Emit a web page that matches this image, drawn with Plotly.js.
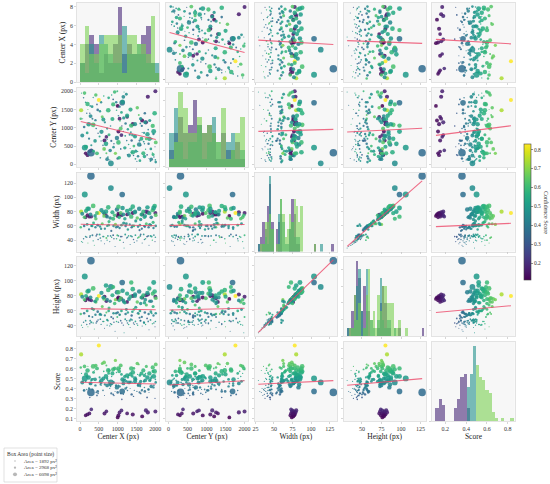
<!DOCTYPE html>
<html><head><meta charset="utf-8">
<script src="https://cdn.plot.ly/plotly-3.0.1.min.js"></script>
<style>html,body{margin:0;padding:0;background:#fff;}</style>
</head><body><div id="chart" style="width:550px;height:484px;"></div>
<script>
// ---- data (low-score cluster, outliers, small, medium, large boxes) ----
const centerX = [
1000,1650,150,1400,200,650,250,1800,1050,700,2000,1100,1750,300,1020,1250,
290,820,127,1120,
40,95,150,210,260,330,380,430,480,520,560,610,650,700,740,790,840,880,930,970,
1020,1060,1110,1150,1200,1240,1290,1330,1380,1420,1470,1510,1560,1600,1650,1690,1740,1780,1830,1870,
1920,1960,2000,1990,1900,1810,1710,1610,1530,1440,1350,1260,1170,1080,990,900,810,720,630,540,
450,350,270,180,70,
20,110,190,240,300,360,410,470,530,590,660,720,770,830,890,940,1000,1050,1100,1160,
1210,1270,1320,1370,1430,1480,1540,1590,1640,1700,1760,1820,1880,1940,2010,1950,1850,1720,1580,1390,
1230,960,760,560,320,
30,120,200,280,350,420,500,570,640,690,750,800,860,920,980,1040,1080,1130,1190,1250,
1300,1360,1400,1460,1520,1570,1630,1680,1730,1790,1840,1890,1930,1980,2010,1955,1610,1340,1150,880,
620,400,160,60,1710,1460,1020,720,450,230];
const centerY = [
1600,1200,300,1100,250,650,350,1850,1250,750,2000,800,1150,380,900,1300,
315,27,457,1685,
1950,1820,1700,1500,1400,1250,1100,980,850,760,640,520,400,300,200,120,1900,1780,1620,1480,
1330,1190,1050,900,780,650,540,430,330,240,150,80,1350,1120,870,620,410,260,160,90,
310,200,120,480,700,950,560,520,350,780,880,260,1980,420,2000,560,1050,680,1870,180,
1640,1830,1600,1400,1250,
1250,1020,860,700,520,360,1210,1490,1450,1300,1150,980,810,640,470,300,160,1580,1420,1270,
1120,960,810,650,500,360,220,100,1050,860,700,560,420,270,60,830,1200,1400,650,800,
1920,1700,1820,1700,1580,
1480,1950,1650,1320,1080,1900,1760,890,420,560,1480,380,1240,1980,720,180,980,1710,450,1330,
240,1060,330,760,1550,540,700,300,1150,820,700,140,1050,1400,600,900,1250,1500,1850,1640,
1230,640,480,790,210,1100,600,140,300,1100];
const widthPx = [
74,76,72,78,75,77,73,79,76,74,78,75,80,73,77,76,
130,113,104,104,
38,42,45,36,44,47,33,46,41,48,39,45,35,43,46,38,44,47,31,42,
46,40,45,37,48,43,46,34,45,41,47,39,44,46,36,48,42,45,33,46,
40,47,44,38,45,46,41,48,43,37,46,44,29,45,47,42,46,40,45,43,
48,39,46,44,37,
58,60,62,55,60,64,58,61,59,63,56,60,66,53,60,62,59,57,61,64,
60,55,62,58,60,67,59,61,56,60,63,58,61,65,60,57,62,59,54,60,
63,58,61,56,60,
80,72,84,76,88,70,78,82,74,80,86,71,79,75,83,72,78,85,70,81,
77,73,87,79,71,84,76,80,74,86,78,72,82,88,75,85,69,83,76,70,
79,74,81,77,72,80,87,73,78,84];
const heightPx = [
76,78,74,80,77,79,75,82,77,73,79,76,81,74,78,72,
127,92,106,98,
41,45,47,39,43,52,36,44,48,55,42,46,37,58,47,40,42,50,33,46,
45,55,44,41,49,47,42,38,48,44,46,43,56,47,40,45,42,50,35,48,
43,44,46,39,57,46,45,47,41,42,49,44,31,47,52,45,43,41,46,49,
46,44,47,42,38,
56,57,60,53,45,62,55,59,56,66,54,48,64,52,57,75,58,55,60,72,
56,58,47,54,62,65,57,60,52,44,68,56,59,66,57,54,73,58,51,59,
62,57,60,55,63,
82,75,86,78,90,72,80,84,76,94,88,73,81,70,85,74,77,87,71,83,
76,98,89,80,72,86,78,81,75,84,90,73,83,86,77,98,70,79,74,92,
78,73,80,79,71,82,85,75,76,87];
const score = [
0.11,0.12,0.13,0.14,0.14,0.15,0.15,0.16,0.16,0.17,0.17,0.18,0.18,0.19,0.13,0.15,
0.36,0.46,0.50,0.37,
0.55,0.38,0.47,0.62,0.31,0.39,0.58,0.36,0.35,0.51,0.43,0.38,0.33,0.63,0.48,0.40,0.52,0.34,0.37,0.56,
0.43,0.60,0.29,0.34,0.49,0.41,0.53,0.40,0.46,0.32,0.50,0.37,0.64,0.42,0.39,0.47,0.55,0.31,0.36,0.48,
0.58,0.43,0.49,0.30,0.52,0.39,0.41,0.35,0.54,0.38,0.47,0.38,0.48,0.35,0.59,0.33,0.42,0.49,0.57,0.44,
0.33,0.50,0.45,0.39,0.47,
0.61,0.38,0.52,0.40,0.48,0.56,0.43,0.37,0.47,0.65,0.44,0.50,0.58,0.35,0.46,0.68,0.36,0.42,0.54,0.48,
0.40,0.51,0.46,0.34,0.60,0.49,0.43,0.53,0.38,0.47,0.62,0.39,0.50,0.57,0.46,0.41,0.48,0.37,0.36,0.52,
0.47,0.43,0.55,0.45,0.49,
0.74,0.62,0.58,0.45,0.62,0.63,0.83,0.48,0.66,0.52,0.58,0.44,0.55,0.60,0.41,0.57,0.63,0.49,0.52,0.53,
0.46,0.60,0.56,0.50,0.65,0.44,0.55,0.58,0.48,0.51,0.55,0.42,0.61,0.57,0.64,0.52,0.47,0.54,0.45,0.59,
0.50,0.49,0.54,0.46,0.53,0.47,0.60,0.43,0.60,0.51];

const varLabels = ['Center X (px)', 'Center Y (px)', 'Width (px)', 'Height (px)', 'Score'];
const xTickVals = [[0,500,1000,1500,2000],[0,500,1000,1500,2000],[25,50,75,100,125],[50,75,100,125],[0.2,0.4,0.6,0.8]];
const yTickVals = [[0,2,4,6,8],[0,500,1000,1500,2000],[40,60,80,100,120],[40,60,80,100,120],[0.1,0.2,0.3,0.4,0.5,0.6,0.7,0.8]];
const histBinSize = [125, 125, 3, 3, 0.03];
const groupEdges = [0.42, 0.50];
const legendAreas = [1892, 2968, 6098];
const colorTicks = [0.2,0.3,0.4,0.5,0.6,0.7,0.8];

// ---- styles ----
const FONT = 'Liberation Serif, Times New Roman, serif';
const W = 550, H = 484;
const COL0 = 77, COLW = 82.5, COLSTEP = 88.8;
const ROW0 = 3, ROWH = 79.2, ROWSTEP = 84.7;
const histColors = ['rgba(72,40,120,0.6)', 'rgba(33,145,140,0.6)', 'rgba(122,209,81,0.6)'];
const lineColor = 'rgba(236,72,105,0.8)';
const TICKF = {size: 6, family: FONT, color: '#333'};
const TITLEF = {size: 7.5, family: FONT, color: '#222'};

const vars = [centerX, centerY, widthPx, heightPx, score];
const area = widthPx.map((w, i) => w * heightPx[i]);
const sizeFn = a => Math.max(1, Math.sqrt(a) / 14 - 1.6);
const sizes = area.map(sizeFn);
const sMin = Math.min(...score), sMax = Math.max(...score);
const ranges = vars.map(v => { const lo = Math.min(...v), hi = Math.max(...v), p = (hi - lo) * 0.05; return [lo - p, hi + p]; });
const group = score.map(s => s < groupEdges[0] ? 0 : (s < groupEdges[1] ? 1 : 2));

const traces = [];
const layout = {
  width: W, height: H, autosize: false,
  margin: {l: 0, r: 0, t: 0, b: 0},
  paper_bgcolor: '#ffffff', plot_bgcolor: '#f7f7f7',
  font: {family: FONT, color: '#333', size: 7},
  showlegend: false, barmode: 'overlay',
  annotations: [], shapes: []
};

function fit(x, y) {
  const n = x.length; let mx = 0, my = 0;
  for (let i = 0; i < n; i++) { mx += x[i]; my += y[i]; }
  mx /= n; my /= n;
  let sxy = 0, sxx = 0;
  for (let i = 0; i < n; i++) { sxy += (x[i]-mx)*(y[i]-my); sxx += (x[i]-mx)*(x[i]-mx); }
  const b = sxy / sxx; return [my - b*mx, b];
}

let firstScatter = true;
for (let r = 0; r < 5; r++) {
  for (let c = 0; c < 5; c++) {
    const k = r*5 + c + 1;
    const xs = k === 1 ? 'x' : 'x' + k, ys = k === 1 ? 'y' : 'y' + k;
    const x0 = COL0 + c*COLSTEP, y0 = ROW0 + r*ROWSTEP;
    const xa = {
      domain: [x0 / W, (x0 + COLW) / W], anchor: ys, range: ranges[c],
      tickvals: xTickVals[c], showticklabels: r === 4, ticks: 'outside', ticklen: 2, tickwidth: 0.6,
      tickcolor: '#bbbbbb', showline: true, mirror: true, linecolor: '#dcdcdc', linewidth: 0.8,
      showgrid: false, zeroline: false, tickfont: TICKF
    };
    if (r === 4) xa.title = {text: varLabels[c], font: TITLEF, standoff: 2};
    const ya = {
      domain: [1 - (y0 + ROWH) / H, 1 - y0 / H], anchor: xs,
      showticklabels: c === 0, ticks: 'outside', ticklen: 2, tickwidth: 0.6,
      tickcolor: '#bbbbbb', showline: true, mirror: true, linecolor: '#dcdcdc', linewidth: 0.8,
      showgrid: false, zeroline: false, tickfont: TICKF
    };
    if (r === c) {
      if (r === 0) { ya.range = [0, 8.4]; ya.tickvals = yTickVals[0]; }
      else { ya.autorange = true; }
    } else { ya.range = ranges[r]; ya.tickvals = yTickVals[r]; }
    if (c === 0) ya.title = {text: varLabels[r], font: TITLEF, standoff: 3};
    layout[k === 1 ? 'xaxis' : 'xaxis' + k] = xa;
    layout[k === 1 ? 'yaxis' : 'yaxis' + k] = ya;

    if (r === c) {
      const v = vars[c];
      const size = histBinSize[c];
      const lo = Math.min(...v) - size / 6, hi = Math.max(...v) + size;
      for (let g = 0; g < 3; g++) {
        traces.push({
          type: 'histogram', x: v.filter((_, i) => group[i] === g), xaxis: xs, yaxis: ys,
          xbins: {start: lo, end: hi, size: size}, autobinx: false,
          marker: {color: histColors[g], line: {width: 0}}, hoverinfo: 'skip'
        });
      }
    } else {
      const tr = {
        type: 'scatter', mode: 'markers', x: vars[c], y: vars[r], xaxis: xs, yaxis: ys,
        marker: {size: sizes, color: score, colorscale: 'Viridis', cmin: sMin, cmax: sMax,
                 opacity: 0.85, line: {width: 0}, showscale: firstScatter},
        hoverinfo: 'skip'
      };
      if (firstScatter) {
        tr.marker.colorbar = {
          x: 524 / W, xanchor: 'left', xpad: 0, ypad: 0, y: 1 - 212 / H, yanchor: 'middle',
          len: 136 / H, lenmode: 'fraction', thickness: 7, thicknessmode: 'pixels',
          outlinewidth: 0.6, outlinecolor: '#444', tickvals: colorTicks,
          ticks: 'outside', ticklen: 2, tickwidth: 0.6, tickcolor: '#444',
          tickfont: {size: 5.5, family: FONT, color: '#333'}
        };
        firstScatter = false;
      }
      traces.push(tr);
      const [a, b] = fit(vars[c], vars[r]);
      const lx = [Math.min(...vars[c]), Math.max(...vars[c])];
      traces.push({type: 'scatter', mode: 'lines', x: lx, y: lx.map(t => a + b*t), xaxis: xs, yaxis: ys,
                   line: {color: lineColor, width: 1.1}, hoverinfo: 'skip'});
    }
  }
}

// colorbar title
layout.annotations.push({text: 'Confidence Score', xref: 'paper', yref: 'paper', x: 546 / W, y: 1 - 212 / H,
  textangle: 90, showarrow: false, font: {size: 6, family: FONT, color: '#333'}, xanchor: 'center', yanchor: 'middle'});

// size legend box
layout.shapes.push({type: 'rect', xref: 'paper', yref: 'paper', x0: 4 / W, x1: 57 / W, y0: 1 - 482 / H, y1: 1 - 448 / H,
  line: {color: '#cccccc', width: 0.6}, fillcolor: '#ffffff', layer: 'below'});
layout.annotations.push({text: 'Box Area (point size)', xref: 'paper', yref: 'paper', x: 30.5 / W, y: 1 - 454 / H,
  showarrow: false, font: {size: 5.5, family: FONT, color: '#333'}, xanchor: 'center', yanchor: 'middle'});
layout.xaxis26 = {domain: [10 / W, 20 / W], range: [-1, 1], visible: false, fixedrange: true, anchor: 'y26'};
layout.yaxis26 = {domain: [1 - 477.7 / H, 1 - 457.7 / H], range: [legendAreas.length - 0.5, -0.5], visible: false, fixedrange: true, anchor: 'x26'};
traces.push({type: 'scatter', mode: 'markers', x: legendAreas.map(() => 0), y: legendAreas.map((_, i) => i),
  xaxis: 'x26', yaxis: 'y26', marker: {size: legendAreas.map(sizeFn), color: '#9a9a9a', line: {width: 0}}, hoverinfo: 'skip'});
legendAreas.forEach((a, i) => {
  layout.annotations.push({text: 'Area = ' + a + ' px²', xref: 'paper', yref: 'y26', x: 21.5 / W, y: i,
    showarrow: false, font: {size: 5, family: FONT, color: '#333'}, xanchor: 'left', yanchor: 'middle'});
});

Plotly.newPlot('chart', traces, layout, {staticPlot: true, displayModeBar: false});
</script>
</body></html>
